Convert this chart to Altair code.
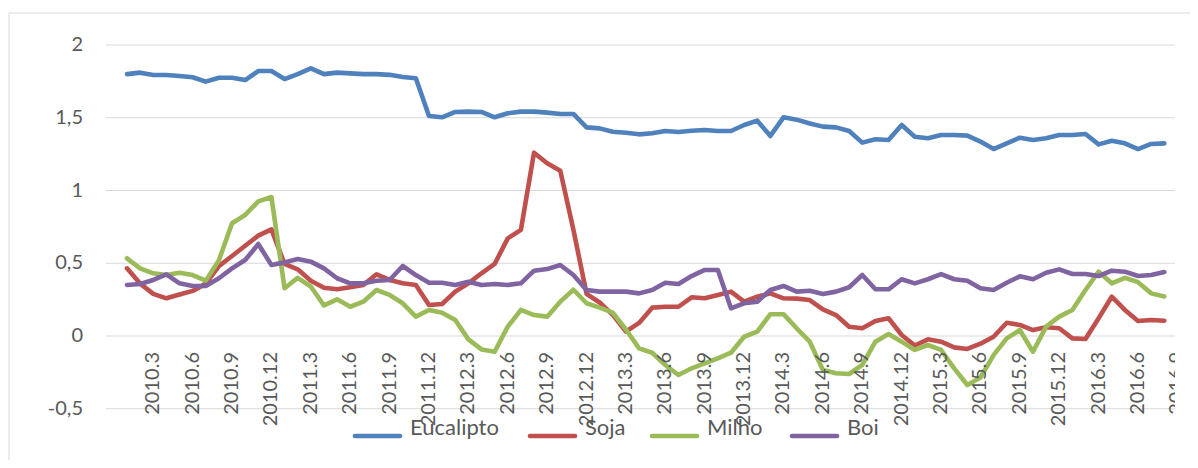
import altair as alt
import pandas as pd

# ---------------- data ----------------
months = [f"{2010 + k // 12}.{k % 12 + 1}" for k in range(80)]  # 2010.1 .. 2016.8

eucalipto = [1.80, 1.81, 1.794, 1.794, 1.787, 1.778, 1.748, 1.775, 1.775, 1.759,
             1.821, 1.821, 1.766, 1.80, 1.84, 1.80, 1.81, 1.805, 1.80, 1.80,
             1.795, 1.78, 1.771, 1.512, 1.503, 1.540, 1.542, 1.540, 1.503, 1.531,
             1.542, 1.542, 1.535, 1.526, 1.526, 1.434, 1.427, 1.404, 1.397, 1.386,
             1.393, 1.409, 1.402, 1.411, 1.416, 1.409, 1.409, 1.450, 1.480, 1.375,
             1.503, 1.487, 1.46, 1.439, 1.434, 1.409, 1.329, 1.352, 1.347, 1.450,
             1.370, 1.359, 1.381, 1.381, 1.377, 1.336, 1.285, 1.324, 1.363, 1.347,
             1.359, 1.381, 1.381, 1.388, 1.317, 1.342, 1.324, 1.285, 1.320, 1.324]

soja = [0.465, 0.36, 0.29, 0.259, 0.285, 0.31, 0.36, 0.48, 0.55, 0.62,
        0.69, 0.733, 0.495, 0.458, 0.38, 0.332, 0.321, 0.335, 0.351, 0.424,
        0.385, 0.362, 0.351, 0.213, 0.220, 0.305, 0.362, 0.431, 0.495, 0.671,
        0.729, 1.26, 1.187, 1.136, 0.73, 0.29, 0.23, 0.145, 0.03, 0.09,
        0.195, 0.201, 0.201, 0.266, 0.259, 0.282, 0.305, 0.236, 0.27, 0.293,
        0.259, 0.257, 0.247, 0.183, 0.144, 0.064, 0.053, 0.103, 0.122, 0.007,
        -0.065, -0.023, -0.039, -0.078, -0.089, -0.053, -0.005, 0.091, 0.076, 0.041,
        0.060, 0.053, -0.016, -0.021, 0.122, 0.270, 0.179, 0.103, 0.110, 0.105]

milho = [0.534, 0.465, 0.431, 0.419, 0.435, 0.419, 0.38, 0.52, 0.775, 0.832,
         0.925, 0.955, 0.328, 0.40, 0.34, 0.21, 0.252, 0.201, 0.236, 0.316,
         0.282, 0.225, 0.133, 0.179, 0.160, 0.110, -0.023, -0.092, -0.108, 0.064,
         0.179, 0.144, 0.133, 0.236, 0.318, 0.225, 0.195, 0.160, 0.045, -0.085,
         -0.115, -0.199, -0.268, -0.222, -0.188, -0.153, -0.115, -0.005, 0.030, 0.150,
         0.150, 0.053, -0.039, -0.234, -0.256, -0.261, -0.199, -0.039, 0.014, -0.039,
         -0.096, -0.062, -0.096, -0.222, -0.337, -0.285, -0.131, -0.016, 0.041, -0.108,
         0.064, 0.133, 0.179, 0.316, 0.442, 0.362, 0.40, 0.37, 0.293, 0.272]

boi = [0.351, 0.357, 0.385, 0.424, 0.362, 0.344, 0.344, 0.397, 0.465, 0.522,
       0.632, 0.488, 0.506, 0.529, 0.511, 0.465, 0.397, 0.362, 0.362, 0.380,
       0.385, 0.481, 0.419, 0.366, 0.366, 0.351, 0.373, 0.351, 0.357, 0.351,
       0.362, 0.449, 0.460, 0.488, 0.419, 0.316, 0.305, 0.305, 0.305, 0.293,
       0.316, 0.366, 0.357, 0.412, 0.454, 0.454, 0.190, 0.225, 0.236, 0.316,
       0.344, 0.305, 0.311, 0.289, 0.305, 0.335, 0.419, 0.321, 0.321, 0.390,
       0.362, 0.390, 0.426, 0.390, 0.380, 0.328, 0.316, 0.366, 0.41, 0.390,
       0.435, 0.458, 0.426, 0.426, 0.412, 0.449, 0.442, 0.412, 0.419, 0.440]

series_names = ["Eucalipto", "Soja", "Milho", "Boi"]
series_colors = ["#4F81BD", "#C0504D", "#9BBB59", "#8064A2"]

tick_labels = ["2010.3", "2010.6", "2010.9", "2010.12", "2011.3", "2011.6", "2011.9",
               "2011.12", "2012.3", "2012.6", "2012.9", "2012.12", "2013.3", "2013.6",
               "2013.9", "2013.12", "2014.3", "2014.6", "2014.9", "2014.12", "2015.3",
               "2015.6", "2015.9", "2015.12", "2016.3", "2016.6", "2016.9"]

y_ticks = [2, 1.5, 1, 0.5, 0, -0.5]
y_tick_labels = ["2", "1,5", "1", "0,5", "0", "-0,5"]

# ---------------- tables ----------------
rows = []
for name, vals in zip(series_names, [eucalipto, soja, milho, boi]):
    for k, (m, v) in enumerate(zip(months, vals)):
        rows.append({"serie": name, "idx": k, "mes": m, "valor": v})
df = pd.DataFrame(rows)


def month_index(lbl):
    y, m = lbl.split(".")
    return (int(y) - 2010) * 12 + int(m) - 1


tick_df = pd.DataFrame({"mes": tick_labels, "idx": [month_index(t) for t in tick_labels]})
grid_df = pd.DataFrame({"v": y_ticks, "lab": y_tick_labels})

# ---------------- layout ----------------
W, H = 1069, 452
FONT = "Lato"
TXT = "#595959"
GRID = "#d9d9d9"
LW = 4.6

# legend layout (pixel offsets inside the view)
legend_sym_start = [249, 424, 546, 686]
legend_sym_len = 45
legend_text_gap = 55
legend_y = 428

x_scale = alt.Scale(domain=[-1.599, 79.817], nice=False, zero=False)
y_scale = alt.Scale(domain=[-0.8522, 2.2543], nice=False, zero=False)
color_scale = alt.Scale(domain=series_names, range=series_colors)

grid = alt.Chart(grid_df).mark_rule(color=GRID, strokeWidth=1).encode(
    y=alt.Y("v:Q", scale=y_scale, axis=None),
    x=alt.value(0), x2=alt.value(W),
)

ylabels = alt.Chart(grid_df).mark_text(
    align="right", baseline="middle", font=FONT, fontSize=20, color=TXT
).encode(
    y=alt.Y("v:Q", scale=y_scale, axis=None),
    x=alt.value(-23),
    text="lab:N",
)

line_layers = []
for name in series_names:
    line_layers.append(
        alt.Chart(df).transform_filter(alt.datum.serie == name).mark_line(
            strokeWidth=LW, strokeCap="round", strokeJoin="round"
        ).encode(
            x=alt.X("idx:Q", scale=x_scale, axis=None),
            y=alt.Y("valor:Q", scale=y_scale, axis=None),
            color=alt.Color("serie:N", scale=color_scale, legend=None),
        )
    )

xlabels = alt.Chart(tick_df).mark_text(
    angle=270, align="right", baseline="middle", font=FONT, fontSize=20,
    color=TXT, clip=True
).encode(
    x=alt.X("idx:Q", scale=x_scale, axis=None),
    y=alt.value(344),
    text="mes:N",
)

# manual legend
leg_df = pd.DataFrame({
    "serie": series_names,
    "x1": legend_sym_start,
    "x2": [s + legend_sym_len for s in legend_sym_start],
    "xt": [s + legend_text_gap for s in legend_sym_start],
})
leg_lines = alt.Chart(leg_df).mark_rule(strokeWidth=LW, strokeCap="round").encode(
    x=alt.X("x1:Q", scale=None), x2="x2:Q",
    y=alt.value(legend_y),
    color=alt.Color("serie:N", scale=color_scale, legend=None),
)
leg_text = alt.Chart(leg_df).mark_text(
    align="left", baseline="alphabetic", font=FONT, fontSize=22, color=TXT
).encode(
    x=alt.X("xt:Q", scale=None),
    y=alt.value(legend_y - 1),
    text="serie:N",
)

frame_df = pd.DataFrame({"k": [0]})
frame_left = alt.Chart(frame_df).mark_rule(color=GRID, strokeWidth=1).encode(
    x=alt.value(-97), y=alt.value(5), y2=alt.value(H)
)
frame_top = alt.Chart(frame_df).mark_rule(color=GRID, strokeWidth=1).encode(
    x=alt.value(-97), x2=alt.value(1090), y=alt.value(5)
)

chart = alt.layer(
    frame_left, frame_top, grid, ylabels, *line_layers, xlabels, leg_lines, leg_text
).properties(
    width=W, height=H,
    autosize=alt.AutoSizeParams(type="none"),
    padding={"left": 98, "top": 0, "right": 15, "bottom": 0},
).configure_view(stroke=None)

chart.save("out.html", embed_options={"renderer": "svg", "actions": False})
